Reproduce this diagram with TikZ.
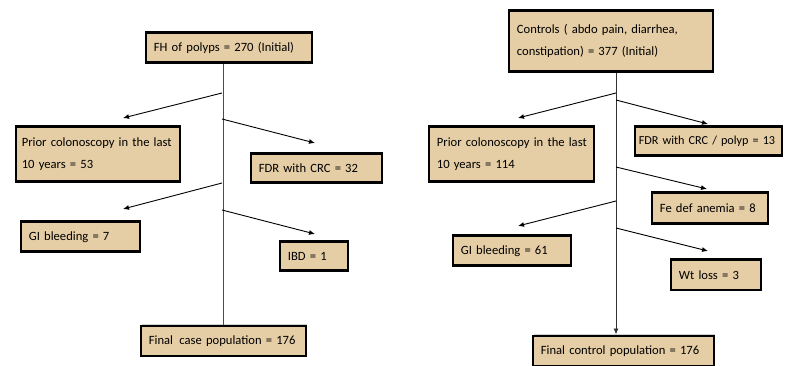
\documentclass[tikz,border=0pt]{standalone}
\usepackage{fontspec}
\setmainfont{Carlito}
\usetikzlibrary{arrows.meta,shadows}
\definecolor{tanbox}{RGB}{229,205,165}
\tikzset{
  box/.style={draw=black, line width=2.6pt, fill=tanbox, anchor=north west,
    align=left, inner xsep=6pt, inner ysep=3pt,
    font=\fontsize{12.6}{22}\selectfont,
    drop shadow={shadow xshift=1.6pt, shadow yshift=1.6pt, fill=black!30, opacity=.6}},
  flow/.style={line width=0.9pt, -{Latex[length=6pt,width=5pt]}}
}

\begin{document}
\begin{tikzpicture}[x=1pt, y=-1pt]
  \useasboundingbox (0,0) rectangle (790,366);
  % ---- cases (left)
  \node[box, text width=154pt, minimum height=30pt] (topL) at (144.5,31.5) {\,FH of polyps = 270 (Initial)};
  \node[box, text width=152pt, minimum height=55pt] (priorL) at (14.5,125.5) {\mbox{Prior colonoscopy in the last}\\10 years = 53};
  \node[box, text width=119pt, minimum height=29pt] (fdrL) at (249.5,152.5) {\,FDR with CRC = 32};
  \node[box, text width=107pt, minimum height=30pt] (giL) at (19.5,220.5) {\,GI bleeding = 7};
  \node[box, text width=56pt, minimum height=29pt] (ibd) at (278.5,240.5) {\,IBD = 1};
  \node[box, text width=153pt, minimum height=30pt] (finL) at (139.5,324.5) {\,Final\, case population = 176};
  % trunk and branch points
  \coordinate (bL1) at (222,93);  \coordinate (tL1) at (123,118);
  \coordinate (bL2) at (222,119); \coordinate (tL2) at (315,143);
  \coordinate (bL3) at (222,183); \coordinate (tL3) at (123,209);
  \coordinate (bL4) at (222,210); \coordinate (tL4) at (315,234);
  \draw[line width=1.1pt, black!70] (finL.north |- topL.south) -- (finL.north);
  \draw[flow] (bL1) -- (tL1);
  \draw[flow] (bL2) -- (tL2);
  \draw[flow] (bL3) -- (tL3);
  \draw[flow] (bL4) -- (tL4);
  % ---- controls (right)
  \node[box, text width=192pt, minimum height=61pt] (topR) at (507.5,9.5) {\,Controls ( abdo pain, diarrhea,\\\,constipation) = 377 (Initial)};
  \node[box, text width=153pt, minimum height=55pt] (priorR) at (427.5,125.5) {\,\mbox{Prior colonoscopy in the last}\\\,10 years = 114};
  \node[box, text width=139pt, inner xsep=4pt, minimum height=29pt, font=\fontsize{12.2}{22}\selectfont] (fdrR) at (633.5,125.5) {\mbox{FDR with CRC / polyp = 13}};
  \node[box, text width=104pt, minimum height=31pt] (fe) at (650.5,191.5) {\,Fe def anemia = 8};
  \node[box, text width=106pt, minimum height=30pt] (giR) at (451.5,234.5) {\,GI bleeding = 61};
  \node[box, text width=78pt, minimum height=30pt] (wt) at (669.5,258.5) {\,Wt loss = 3};
  \node[box, text width=169pt, minimum height=30pt] (finR) at (531.5,334.5) {\,Final control population = 176};
  \coordinate (trunkR) at (616,73);
  \coordinate (bR1) at (616,93);  \coordinate (tR1) at (518,118);
  \coordinate (bR2) at (616,100); \coordinate (tR2) at (708,124);
  \coordinate (bR3) at (616,167); \coordinate (tR3) at (707,189);
  \coordinate (bR4) at (616,201); \coordinate (tR4) at (518,226);
  \coordinate (bR5) at (616,228); \coordinate (tR5) at (708,251);
  \draw[flow, black!80] (trunkR) -- (trunkR |- finR.north);
  \draw[flow] (bR1) -- (tR1);
  \draw[flow] (bR2) -- (tR2);
  \draw[flow] (bR3) -- (tR3);
  \draw[flow] (bR4) -- (tR4);
  \draw[flow] (bR5) -- (tR5);
\end{tikzpicture}
\end{document}
